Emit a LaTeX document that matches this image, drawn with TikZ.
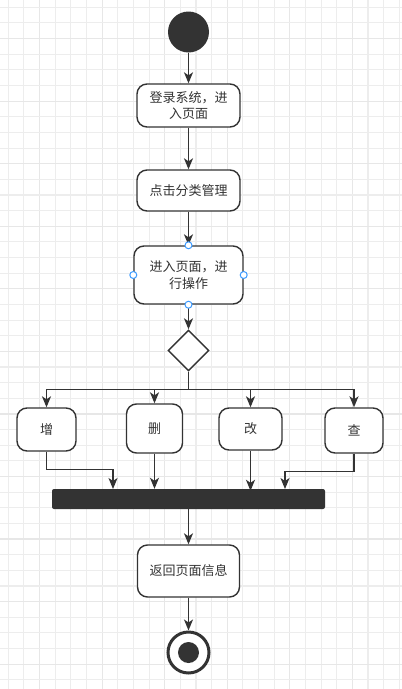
\documentclass[tikz,border=0pt]{standalone}
\usepackage{fontspec}
\setmainfont{Noto Sans CJK SC}
\usetikzlibrary{arrows.meta,shapes.geometric,calc}
\definecolor{ink}{HTML}{333333}
\definecolor{gridminor}{HTML}{EDEDED}
\definecolor{gridmajor}{HTML}{E7E7E7}
\definecolor{handle}{HTML}{3D9BFF}
\tikzset{
  box/.style={draw=ink, line width=1.4pt, rounded corners=10pt, fill=white, align=center, inner sep=0pt,
     font=\fontsize{13}{16.5}\selectfont, text=ink},
  arr/.style={draw=ink, line width=1.4pt, -{Stealth[length=11pt,width=9pt,inset=3pt]}},
  ln/.style={draw=ink, line width=1.4pt},
  hdl/.style={draw=handle, fill=white, line width=1pt, circle, inner sep=0pt, minimum size=7pt},
}
\begin{document}
\begin{tikzpicture}[x=1pt,y=-1pt]
\useasboundingbox (0,0) rectangle (402,689);
\fill[white] (0,0) rectangle (402,689);
% grid
\foreach \i in {0,...,25} {
  \pgfmathsetmacro{\gx}{8.3+15.64*\i}
  \pgfmathtruncatemacro{\m}{mod(\i+2,4)}
  \ifnum\m=0 \draw[gridmajor,line width=1.2pt] (\gx,0) -- (\gx,689);
  \else \draw[gridminor,line width=1.1pt] (\gx,0) -- (\gx,689); \fi
}
\foreach \j in {0,...,43} {
  \pgfmathsetmacro{\gy}{7.3+15.64*\j}
  \pgfmathtruncatemacro{\m}{mod(\j+2,4)}
  \ifnum\m=0 \draw[gridmajor,line width=1.2pt] (0,\gy) -- (402,\gy);
  \else \draw[gridminor,line width=1.1pt] (0,\gy) -- (402,\gy); \fi
}
% nodes
\node[circle, fill=ink, minimum size=41pt, inner sep=0pt] (start) at (188.5,32) {};
\node[box, minimum width=103pt, minimum height=43pt] (b1) at (188.5,105.5) {登录系统，进\\入页面};
\node[box, minimum width=103pt, minimum height=41pt] (b2) at (188.5,190.5) {点击分类管理};
\node[box, minimum width=109pt, minimum height=58pt] (b3) at (188.5,275) {进入页面，进\\行操作};
\node[diamond, draw=ink, line width=1.4pt, fill=white, minimum width=41pt, minimum height=41pt, inner sep=0pt] (dia) at (188.5,350.5) {};
\node[box, minimum width=59pt, minimum height=43pt] (zeng) at (46.5,429.5) {增};
\node[box, minimum width=56pt, minimum height=49pt] (shan) at (154.5,428.5) {删};
\node[box, minimum width=63pt, minimum height=42pt] (gai) at (250.5,429) {改};
\node[box, minimum width=58pt, minimum height=45pt] (cha) at (354,430.5) {查};
\node[fill=ink, rounded corners=2pt, minimum width=273pt, minimum height=20pt, inner sep=0pt] (bar) at (188.5,499) {};
\node[box, minimum width=102pt, minimum height=52pt] (b4) at (188.5,571) {返回页面信息};
\node[circle, draw=ink, line width=3pt, fill=white, minimum size=41pt, inner sep=0pt] (end) at (188.5,652.5) {};
\node[circle, fill=ink, minimum size=21pt, inner sep=0pt] at (end.center) {};
% connectors
\draw[arr] (start) -- (b1);
\draw[arr] (b1) -- (b2);
\draw[arr] (b2) -- (b3.north);
\draw[arr] (b3.south) -- (dia.north);
\coordinate (fork) at (188.5,389.5);
\draw[ln] (dia.south) -- (fork);
\draw[arr] (fork) -| (zeng.north);
\draw[arr] (fork) -| (shan.north);
\draw[arr] (fork) -| (gai.north);
\draw[arr] (fork) -| (cha.north);
\coordinate (j1) at (113,489);
\coordinate (j4) at (285,489);
\draw[arr] (zeng.south) -- ++(0,18) -| (j1);
\draw[arr] (shan.south) -- (shan.south |- bar.north);
\draw[arr] (gai.south) -- ($(gai.south |- bar.north)+(0,2)$);
\draw[arr] (cha.south) -- ++(0,18) -| (j4);
\draw[arr] (bar.south) -- (b4.north);
\draw[arr] (b4.south) -- (end.north);
% handles on b3
\node[hdl] at (b3.north) {};
\node[hdl] at (b3.south) {};
\node[hdl] at (b3.west) {};
\node[hdl] at (b3.east) {};
\end{tikzpicture}
\end{document}
